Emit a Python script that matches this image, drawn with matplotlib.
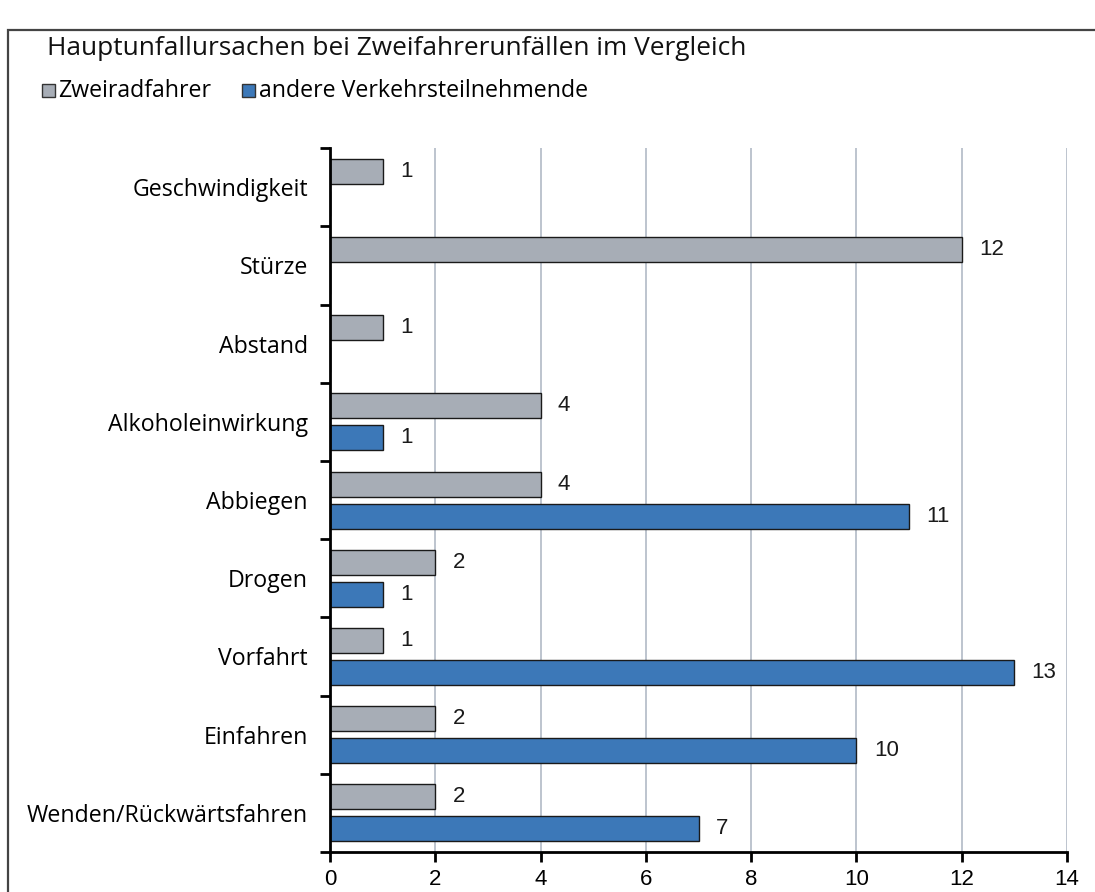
import matplotlib.pyplot as plt
import numpy as np
from matplotlib.patches import Rectangle

plt.rcParams['font.family'] = ['Open Sans', 'DejaVu Sans']
num_font = ['Liberation Sans Narrow', 'Liberation Sans', 'DejaVu Sans']

categories = ["Geschwindigkeit", "Stürze", "Abstand", "Alkoholeinwirkung", "Abbiegen",
              "Drogen", "Vorfahrt", "Einfahren", "Wenden/Rückwärtsfahren"]
zweirad = [1, 12, 1, 4, 4, 2, 1, 2, 2]
andere = [0, 0, 0, 1, 11, 1, 13, 10, 7]
series_names = ["Zweiradfahrer", "andere Verkehrsteilnehmende"]
gray = "#A7ADB6"
blue = "#3C78B8"

fig = plt.figure(figsize=(10.95, 8.92), dpi=100)
ax = fig.add_axes([0.3014, 0.0448, 0.673, 0.7892])

y = np.arange(len(categories))
h = 0.32
ax.barh(y - 0.205, zweirad, height=h, color=gray, edgecolor="#1a1a1a", linewidth=1, zorder=3)
ax.barh(y + 0.205, andere, height=h, color=blue, edgecolor="#1a1a1a", linewidth=1, zorder=3)

for i, v in enumerate(zweirad):
    if v > 0:
        ax.text(v + 0.33, i - 0.205, str(v), va="center", ha="left", fontsize=16,
                family=num_font, color="#1a1a1a")
for i, v in enumerate(andere):
    if v > 0:
        ax.text(v + 0.33, i + 0.205, str(v), va="center", ha="left", fontsize=16,
                family=num_font, color="#1a1a1a")

ax.set_xlim(0, 14)
ax.set_ylim(len(categories) - 0.5, -0.5)
ax.set_xticks(range(0, 15, 2))
ax.set_xticklabels([str(t) for t in range(0, 15, 2)], family=num_font, fontsize=16)
ax.set_yticks(y)
ax.set_yticklabels(categories, fontsize=16.7)
ax.set_yticks(np.arange(-0.5, len(categories), 1), minor=True)
ax.tick_params(axis="y", which="major", length=0, pad=16)
ax.tick_params(axis="y", which="minor", length=7, width=2, direction="out")
ax.tick_params(axis="x", length=7, width=2, direction="out", pad=5)
ax.grid(axis="x", color="#B8BFCA", linewidth=1.3, zorder=0)

for s in ["top", "right"]:
    ax.spines[s].set_visible(False)
for s in ["left", "bottom"]:
    ax.spines[s].set_linewidth(2)
    ax.spines[s].set_zorder(4)

fig.text(0.0425, 0.9383, "Hauptunfallursachen bei Zweifahrerunfällen im Vergleich",
         fontsize=18.9, va="baseline", ha="left", color="#111111")

# legend
fig.patches.append(Rectangle((0.0384, 0.8913), 0.0119, 0.0146, transform=fig.transFigure,
                             facecolor=gray, edgecolor="#333333", linewidth=1))
fig.text(0.0535, 0.8907, series_names[0], fontsize=16.7, va="baseline", ha="left")
fig.patches.append(Rectangle((0.221, 0.8913), 0.0119, 0.0146, transform=fig.transFigure,
                             facecolor=blue, edgecolor="#333333", linewidth=1))
fig.text(0.2365, 0.8907, series_names[1], fontsize=16.7, va="baseline", ha="left")

# outer frame
fig.patches.append(Rectangle((0.0073, -0.02), 1.1, 1.0065 - 0.02, transform=fig.transFigure,
                             facecolor="none", edgecolor="#444444", linewidth=1.6))

fig.savefig("out.png", dpi=100)
